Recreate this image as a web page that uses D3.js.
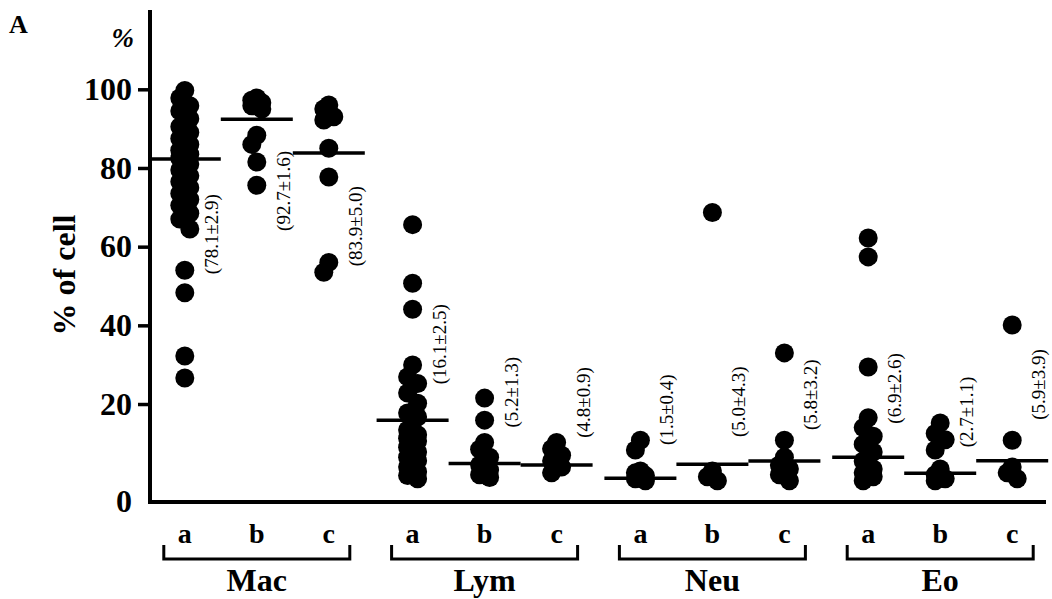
<!DOCTYPE html>
<html>
<head>
<meta charset="utf-8">
<script src="https://cdn.jsdelivr.net/npm/d3@7/dist/d3.min.js"></script>
<style>
  body { margin: 0; background: #fff; }
  text { font-family: "Liberation Serif", "Times New Roman", serif; }
</style>
</head>
<body>
<div id="chart"></div>
<script>
// cell types and the three subject groups
var groups = ["Mac", "Lym", "Neu", "Eo"];
var subs = ["a", "b", "c"];

// individual values (% of cell)
var macA = [99.7, 97.8, 95.8, 94.5, 92.5, 90.5, 89, 87.5, 86, 84.5, 83.5, 82.5, 81, 79.5, 78, 76.5, 75, 73.5, 72, 70.5, 68.5, 67, 64.5, 54, 48.3, 32.2, 26.6];
var macB = [97.8, 97.2, 96.6, 95.8, 95, 88.3, 86, 81.5, 75.6];
var macC = [96, 95, 93, 92.2, 85, 77.7, 56, 53.5];
var lymA = [65.6, 50.7, 44.1, 29.9, 26.9, 25.2, 22.8, 20.2, 17.7, 16.7, 13.4, 12.2, 11.3, 10.6, 9, 7.8, 6.5, 5.6, 4, 2.8, 1.8, 1];
var lymB = [21.5, 15.9, 10.2, 8.5, 6.5, 4.5, 3.2, 2, 1.3];
var lymC = [10.2, 8.6, 7, 5.5, 4, 2.5];
var neuA = [10.8, 8.3, 3, 2.5, 1.8, 1, 0.5];
var neuB = [68.7, 3, 1.5, 0.5];
var neuC = [33, 10.8, 6.5, 4.5, 3.5, 2, 0.5];
var eoA = [62.2, 57.4, 29.4, 16.5, 14, 11.8, 9.8, 7.8, 5.5, 3.5, 2.5, 1.5, 0.5];
var eoB = [15.2, 12.5, 10.9, 8.3, 3.5, 2, 1, 0.5];
var eoC = [40.1, 10.8, 4, 2.5, 1];

var values = [[macA, macB, macC], [lymA, lymB, lymC], [neuA, neuB, neuC], [eoA, eoB, eoC]];

// horizontal bar level drawn in each column
var meanLine = [[82.3, 92.4, 83.8], [15.9, 4.9, 4.5], [1.1, 4.7, 5.5], [6.5, 2.4, 5.6]];
var meanText = [["(78.1\u00b12.9)", "(92.7\u00b11.6)", "(83.9\u00b15.0)"],
                ["(16.1\u00b12.5)", "(5.2\u00b11.3)", "(4.8\u00b10.9)"],
                ["(1.5\u00b10.4)", "(5.0\u00b14.3)", "(5.8\u00b13.2)"],
                ["(6.9\u00b12.6)", "(2.7\u00b11.1)", "(5.9\u00b13.9)"]];
// where each rotated label starts, in axis units
var labelAt = [[53, 64, 55], [25, 14, 11.4], [9.6, 11.6, 13.4], [15, 9, 16]];

var yTicks = [20, 40, 60, 80, 100];

var svgWidth = 1052, svgHeight = 599;
var axisX = 150, axisBottom = 502, axisTop = 10, axisRight = 1046;

var svg = d3.select("#chart").append("svg")
  .attr("width", svgWidth)
  .attr("height", svgHeight);

svg.append("rect").attr("width", svgWidth).attr("height", svgHeight).attr("fill", "#fff");

var y = d3.scaleLinear().domain([0, 100]).range([482.7, 89.3]);

var outer = d3.scaleBand().domain(groups).range([142.9, 1054.1]);
var inner = d3.scalePoint().domain(subs).range([-72, 72]);

function colX(g, s) {
  return outer(g) + outer.bandwidth() / 2 + inner(s);
}

// y axis
var yAxis = svg.append("g")
  .attr("transform", "translate(" + axisX + ",0)")
  .call(d3.axisLeft(y).tickValues(yTicks).tickSize(12).tickPadding(6));
yAxis.select(".domain").remove();
yAxis.selectAll(".tick line").attr("stroke", "#000").attr("stroke-width", 3.5);
yAxis.selectAll(".tick text")
  .attr("fill", "#000")
  .style("font-family", "'Liberation Serif', serif")
  .style("font-size", "32px")
  .style("font-weight", "bold");

svg.append("text")
  .attr("x", axisX - 18).attr("y", axisBottom).attr("dy", "0.32em")
  .attr("text-anchor", "end")
  .style("font-size", "32px").style("font-weight", "bold")
  .text("0");

svg.append("path")
  .attr("d", "M" + axisX + "," + axisTop + "V" + axisBottom + "H" + axisRight)
  .attr("fill", "none").attr("stroke", "#000").attr("stroke-width", 4);

// labels
svg.append("text").attr("x", 9).attr("y", 33)
  .style("font-size", "26px").style("font-weight", "bold").text("A");
svg.append("text").attr("x", 134).attr("y", 47).attr("text-anchor", "end")
  .style("font-size", "27px").style("font-weight", "bold").style("font-style", "italic").text("%");
svg.append("text")
  .attr("transform", "translate(75,275) rotate(-90)")
  .attr("text-anchor", "middle")
  .style("font-size", "32px").style("font-weight", "bold")
  .text("% of cell");

var r = 9.5;

groups.forEach(function(g, gi) {
  subs.forEach(function(s, si) {
    var cx = colX(g, s);
    var vals = values[gi][si].slice().sort(d3.descending);

    // simple spread so overlapping dots sit side by side
    var offs = [];
    var lastY = -1e9, k = 0;
    vals.forEach(function(v) {
      var py = y(v);
      if (py - lastY < r * 1.6) { k++; } else { k = 0; }
      offs.push(k === 0 ? 0 : (k % 2 === 1 ? -5 : 5));
      lastY = py;
    });

    svg.append("g").selectAll("circle")
      .data(vals)
      .enter().append("circle")
      .attr("cx", function(d, i) { return cx + offs[i]; })
      .attr("cy", function(d) { return y(d); })
      .attr("r", r)
      .attr("fill", "#000");

    svg.append("line")
      .attr("x1", cx - 36).attr("x2", cx + 36)
      .attr("y1", y(meanLine[gi][si])).attr("y2", y(meanLine[gi][si]))
      .attr("stroke", "#000").attr("stroke-width", 3.5);

    svg.append("text")
      .attr("transform", "translate(" + (cx + 33) + "," + y(labelAt[gi][si]) + ") rotate(-90)")
      .style("font-size", "19px")
      .text(meanText[gi][si]);

    svg.append("text")
      .attr("x", cx).attr("y", 543)
      .attr("text-anchor", "middle")
      .style("font-size", "28px").style("font-weight", "bold")
      .text(s);
  });

  var gc = outer(g) + outer.bandwidth() / 2;
  svg.append("path")
    .attr("d", "M" + (gc - 93) + ",545V559H" + (gc + 93) + "V545")
    .attr("fill", "none").attr("stroke", "#000").attr("stroke-width", 3);

  svg.append("text")
    .attr("x", gc).attr("y", 591)
    .attr("text-anchor", "middle")
    .style("font-size", "32px").style("font-weight", "bold")
    .text(g);
});
</script>
</body>
</html>
